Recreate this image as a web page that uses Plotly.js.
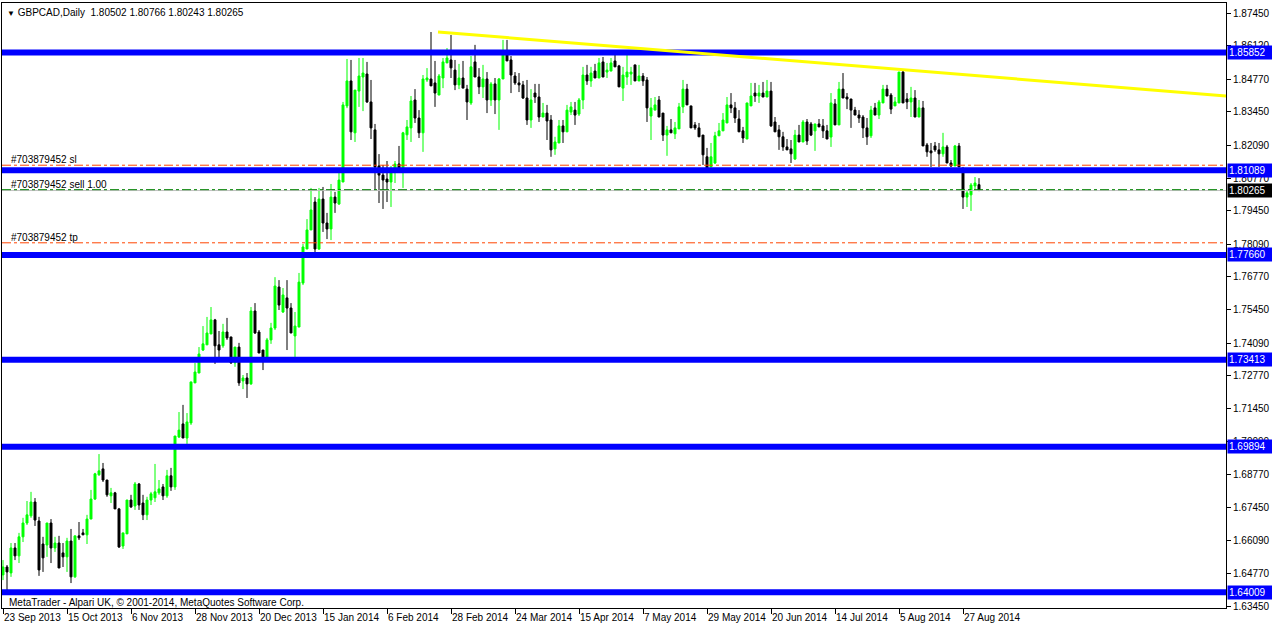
<!DOCTYPE html>
<html><head><meta charset="utf-8">
<script src="https://cdn.plot.ly/plotly-3.0.1.min.js"></script>
<style>html,body{margin:0;padding:0;background:#fff}#chart{width:1272px;height:628px}</style>
</head><body><div id="chart"></div>
<script>
// ---- data (GBPCAD daily, bar 0 = 23 Sep 2013) ----
const openP = [1.6471,1.6503,1.6479,1.6580,1.6548,1.6625,1.6681,1.6710,1.6766,1.6689,
1.6596,1.6592,1.6681,1.6580,1.6600,1.6560,1.6544,1.6608,1.6463,1.6629,
1.6641,1.6633,1.6697,1.6778,1.6876,1.6900,1.6855,1.6791,1.6803,1.6738,
1.6588,1.6637,1.6774,1.6750,1.6839,1.6762,1.6714,1.6774,1.6783,1.6803,
1.6827,1.6791,1.6872,1.6827,1.7029,1.7082,1.7025,1.7086,1.7248,1.7288,
1.7381,1.7402,1.7446,1.7503,1.7402,1.7398,1.7454,1.7434,1.7329,1.7393,
1.7256,1.7268,1.7244,1.7539,1.7454,1.7381,1.7353,1.7422,1.7470,1.7636,
1.7535,1.7592,1.7551,1.7438,1.7474,1.7652,1.7790,1.7867,1.7980,1.7790,
1.7992,1.7895,1.7871,1.8000,1.7972,1.8061,1.8369,1.8470,1.8260,1.8429,
1.8486,1.8498,1.8385,1.8272,1.8126,1.8089,1.8073,1.8061,1.8102,1.8134,
1.8118,1.8252,1.8280,1.8393,1.8320,1.8260,1.8474,1.8478,1.8462,1.8413,
1.8482,1.8543,1.8555,1.8514,1.8454,1.8482,1.8437,1.8381,1.8547,1.8486,
1.8446,1.8478,1.8393,1.8458,1.8393,1.8478,1.8579,1.8555,1.8490,1.8462,
1.8454,1.8401,1.8312,1.8421,1.8405,1.8324,1.8340,1.8312,1.8195,1.8219,
1.8288,1.8264,1.8344,1.8352,1.8336,1.8393,1.8494,1.8470,1.8510,1.8482,
1.8547,1.8506,1.8510,1.8551,1.8531,1.8441,1.8486,1.8498,1.8535,1.8470,
1.8490,1.8474,1.8328,1.8352,1.8393,1.8340,1.8251,1.8272,1.8256,1.8276,
1.8365,1.8437,1.8369,1.8292,1.8280,1.8251,1.8163,1.8122,1.8138,1.8248,
1.8268,1.8300,1.8373,1.8361,1.8316,1.8268,1.8235,1.8369,1.8421,1.8409,
1.8421,1.8405,1.8429,1.8304,1.8272,1.8244,1.8203,1.8195,1.8154,1.8251,
1.8223,1.8304,1.8296,1.8268,1.8296,1.8288,1.8268,1.8243,1.8377,1.8292,
1.8437,1.8405,1.8397,1.8352,1.8332,1.8324,1.8280,1.8248,1.8361,1.8332,
1.8381,1.8437,1.8413,1.8369,1.8381,1.8506,1.8397,1.8385,1.8401,1.8324,
1.8361,1.8211,1.8187,1.8207,1.8191,1.8175,1.8203,1.8138,1.8126,1.8207,
1.8110,1.8000,1.8009,1.8045,1.80502];
const highP = [1.6531,1.6511,1.6600,1.6600,1.6641,1.6702,1.6770,1.6807,1.6782,1.6706,
1.6625,1.6681,1.6697,1.6625,1.6629,1.6600,1.6621,1.6657,1.6629,1.6685,
1.6657,1.6714,1.6815,1.6884,1.6960,1.6924,1.6855,1.6823,1.6807,1.6742,
1.6641,1.6774,1.6795,1.6847,1.6843,1.6795,1.6787,1.6807,1.6920,1.6855,
1.6839,1.6896,1.6904,1.7033,1.7130,1.7159,1.7126,1.7252,1.7329,1.7393,
1.7478,1.7515,1.7555,1.7507,1.7458,1.7487,1.7511,1.7434,1.7393,1.7410,
1.7280,1.7288,1.7555,1.7571,1.7462,1.7381,1.7430,1.7491,1.7676,1.7664,
1.7632,1.7664,1.7571,1.7535,1.7693,1.7810,1.7911,1.8037,1.8000,1.8037,
1.8041,1.7936,1.8053,1.8021,1.8098,1.8385,1.8559,1.8555,1.8433,1.8563,
1.8563,1.8547,1.8474,1.8296,1.8174,1.8130,1.8146,1.8126,1.8146,1.8207,
1.8264,1.8312,1.8409,1.8437,1.8352,1.8494,1.8522,1.8668,1.8551,1.8498,
1.8563,1.8603,1.8656,1.8555,1.8539,1.8551,1.8454,1.8571,1.8616,1.8522,
1.8535,1.8506,1.8466,1.8482,1.8482,1.8636,1.8636,1.8571,1.8506,1.8502,
1.8470,1.8474,1.8437,1.8458,1.8458,1.8381,1.8373,1.8332,1.8244,1.8312,
1.8312,1.8373,1.8385,1.8385,1.8401,1.8527,1.8535,1.8527,1.8539,1.8563,
1.8567,1.8543,1.8563,1.8575,1.8535,1.8527,1.8575,1.8527,1.8535,1.8535,
1.8502,1.8486,1.8401,1.8405,1.8409,1.8340,1.8288,1.8316,1.8304,1.8381,
1.8474,1.8458,1.8369,1.8304,1.8300,1.8251,1.8199,1.8219,1.8264,1.8300,
1.8340,1.8405,1.8421,1.8385,1.8352,1.8284,1.8381,1.8462,1.8462,1.8454,
1.8466,1.8474,1.8466,1.8324,1.8292,1.8264,1.8235,1.8231,1.8272,1.8292,
1.8312,1.8316,1.8304,1.8296,1.8316,1.8316,1.8292,1.8421,1.8397,1.8466,
1.8502,1.8421,1.8397,1.8365,1.8352,1.8332,1.8320,1.8369,1.8381,1.8393,
1.8454,1.8454,1.8421,1.8405,1.8506,1.8514,1.8421,1.8446,1.8433,1.8393,
1.8389,1.8219,1.8219,1.8223,1.8219,1.8260,1.8211,1.8150,1.8211,1.8219,
1.8122,1.8029,1.8057,1.8081,1.80766];
const lowP = [1.6450,1.6410,1.6463,1.6531,1.6519,1.6604,1.6673,1.6702,1.6669,1.6467,
1.6483,1.6544,1.6519,1.6564,1.6499,1.6503,1.6483,1.6438,1.6459,1.6612,
1.6633,1.6596,1.6697,1.6774,1.6872,1.6847,1.6787,1.6762,1.6738,1.6580,
1.6576,1.6637,1.6742,1.6734,1.6734,1.6693,1.6693,1.6754,1.6766,1.6795,
1.6774,1.6783,1.6811,1.6815,1.7025,1.7025,1.7001,1.7078,1.7248,1.7288,
1.7377,1.7402,1.7446,1.7325,1.7349,1.7390,1.7422,1.7325,1.7313,1.7236,
1.7223,1.7187,1.7240,1.7446,1.7369,1.7300,1.7349,1.7406,1.7462,1.7543,
1.7531,1.7381,1.7450,1.7353,1.7474,1.7644,1.7790,1.7867,1.7774,1.7786,
1.7859,1.7830,1.7826,1.7936,1.7968,1.8061,1.8360,1.8231,1.8223,1.8365,
1.8348,1.8381,1.8235,1.8029,1.7976,1.7952,1.7980,1.7960,1.8057,1.8098,
1.8037,1.8231,1.8223,1.8300,1.8239,1.8183,1.8466,1.8450,1.8365,1.8413,
1.8441,1.8543,1.8482,1.8433,1.8437,1.8441,1.8312,1.8373,1.8486,1.8417,
1.8401,1.8340,1.8369,1.8336,1.8272,1.8478,1.8551,1.8421,1.8454,1.8425,
1.8397,1.8292,1.8280,1.8381,1.8304,1.8324,1.8231,1.8163,1.8171,1.8219,
1.8219,1.8264,1.8332,1.8292,1.8328,1.8356,1.8454,1.8446,1.8482,1.8482,
1.8486,1.8482,1.8510,1.8527,1.8446,1.8389,1.8454,1.8454,1.8470,1.8470,
1.8450,1.8304,1.8231,1.8352,1.8324,1.8227,1.8167,1.8260,1.8235,1.8276,
1.8340,1.8373,1.8280,1.8272,1.8244,1.8130,1.8098,1.8122,1.8134,1.8248,
1.8268,1.8300,1.8340,1.8300,1.8264,1.8219,1.8235,1.8369,1.8385,1.8381,
1.8405,1.8405,1.8284,1.8264,1.8191,1.8187,1.8191,1.8138,1.8150,1.8223,
1.8223,1.8211,1.8247,1.8187,1.8284,1.8239,1.8235,1.8203,1.8292,1.8292,
1.8401,1.8356,1.8280,1.8332,1.8300,1.8239,1.8211,1.8239,1.8332,1.8316,
1.8381,1.8409,1.8336,1.8369,1.8381,1.8381,1.8356,1.8324,1.8324,1.8324,
1.8207,1.8163,1.8122,1.8183,1.8122,1.8163,1.8138,1.8122,1.8126,1.8122,
1.7952,1.7960,1.7944,1.8025,1.80243];
const closeP = [1.6503,1.6483,1.6580,1.6548,1.6625,1.6681,1.6714,1.6766,1.6693,1.6491,
1.6540,1.6681,1.6580,1.6600,1.6499,1.6544,1.6608,1.6463,1.6629,1.6621,
1.6633,1.6697,1.6778,1.6880,1.6892,1.6855,1.6795,1.6803,1.6738,1.6584,
1.6641,1.6774,1.6746,1.6839,1.6754,1.6714,1.6774,1.6799,1.6807,1.6819,
1.6791,1.6872,1.6827,1.7033,1.7057,1.7025,1.7090,1.7252,1.7292,1.7365,
1.7406,1.7450,1.7503,1.7398,1.7381,1.7454,1.7430,1.7329,1.7393,1.7248,
1.7268,1.7244,1.7539,1.7450,1.7369,1.7353,1.7422,1.7470,1.7640,1.7563,
1.7604,1.7551,1.7450,1.7478,1.7656,1.7798,1.7867,1.7948,1.7790,1.7992,
1.7895,1.7871,1.8000,1.7976,1.8069,1.8373,1.8470,1.8264,1.8433,1.8490,
1.8502,1.8385,1.8280,1.8122,1.8089,1.8069,1.8061,1.8102,1.8134,1.8118,
1.8260,1.8284,1.8389,1.8320,1.8260,1.8478,1.8482,1.8450,1.8421,1.8490,
1.8547,1.8563,1.8523,1.8454,1.8482,1.8441,1.8385,1.8527,1.8486,1.8446,
1.8478,1.8393,1.8458,1.8393,1.8478,1.8579,1.8551,1.8494,1.8462,1.8454,
1.8401,1.8312,1.8393,1.8405,1.8324,1.8340,1.8308,1.8191,1.8223,1.8288,
1.8264,1.8352,1.8365,1.8332,1.8393,1.8494,1.8470,1.8502,1.8482,1.8543,
1.8486,1.8514,1.8543,1.8527,1.8446,1.8494,1.8506,1.8506,1.8470,1.8490,
1.8470,1.8361,1.8361,1.8373,1.8324,1.8251,1.8272,1.8260,1.8280,1.8365,
1.8437,1.8373,1.8280,1.8280,1.8244,1.8171,1.8118,1.8163,1.8248,1.8268,
1.8312,1.8373,1.8361,1.8320,1.8264,1.8239,1.8381,1.8409,1.8409,1.8421,
1.8405,1.8429,1.8288,1.8264,1.8244,1.8203,1.8191,1.8175,1.8251,1.8223,
1.8304,1.8227,1.8251,1.8296,1.8284,1.8268,1.8235,1.8381,1.8292,1.8437,
1.8401,1.8397,1.8352,1.8332,1.8320,1.8280,1.8244,1.8352,1.8332,1.8385,
1.8437,1.8409,1.8356,1.8385,1.8506,1.8381,1.8385,1.8401,1.8324,1.8361,
1.8207,1.8183,1.8179,1.8191,1.8175,1.8203,1.8138,1.8126,1.8207,1.8122,
1.8000,1.8017,1.8049,1.8057,1.80265];
const dateLabels = ['23 Sep 2013','15 Oct 2013','6 Nov 2013','28 Nov 2013','20 Dec 2013','15 Jan 2014',
  '6 Feb 2014','28 Feb 2014','24 Mar 2014','15 Apr 2014','7 May 2014','29 May 2014','20 Jun 2014',
  '14 Jul 2014','5 Aug 2014','27 Aug 2014'];
const labelEvery = 16;   // one date label every 16 daily bars
const priceTicks = [1.87450,1.86120,1.84770,1.83450,1.82090,1.80770,1.79450,1.78090,1.76770,1.75450,
  1.74090,1.72770,1.71450,1.70090,1.68770,1.67450,1.66090,1.64770,1.63450];
const levels = [1.85852,1.81089,1.77660,1.73413,1.69894,1.64009];
const bidPrice = 1.80265;
const orderTicket = '#703879452';
const orderSL = 1.81290, orderEntry = 1.80300, orderTP = 1.78150;
const trendBars = [108.75, 305.75];
const trendPrices = [1.86681, 1.84091];
const headerText = 'GBPCAD,Daily\u00a0\u00a01.80502 1.80766 1.80243 1.80265';

// ---- chart ----
const idx = openP.map((_, i) => i);
const FONT = 'Liberation Sans, Arial, sans-serif';

const trace = {
  type: 'candlestick', x: idx, open: openP, high: highP, low: lowP, close: closeP,
  increasing: {line: {color: '#00ff00', width: 1}, fillcolor: '#00ff00'},
  decreasing: {line: {color: '#000000', width: 1}, fillcolor: '#000000'},
  whiskerwidth: 0, hoverinfo: 'skip', showlegend: false
};

const shapes = [];
levels.forEach(v => shapes.push({type: 'line', xref: 'paper', x0: 0, x1: 1, yref: 'y', y0: v, y1: v,
  line: {color: '#0000ff', width: 6}}));
shapes.push({type: 'line', xref: 'paper', x0: 0, x1: 1, yref: 'y', y0: bidPrice, y1: bidPrice,
  line: {color: '#c0c0c0', width: 1}});
[orderSL, orderTP].forEach(v => shapes.push({type: 'line', xref: 'paper', x0: 0, x1: 1, yref: 'y', y0: v, y1: v,
  line: {color: '#ff4500', width: 1, dash: 'dashdot'}}));
shapes.push({type: 'line', xref: 'paper', x0: 0, x1: 1, yref: 'y', y0: orderEntry, y1: orderEntry,
  line: {color: '#008000', width: 1, dash: 'dashdot'}});
shapes.push({type: 'line', xref: 'x', yref: 'y', x0: trendBars[0], x1: trendBars[1], y0: trendPrices[0], y1: trendPrices[1],
  line: {color: '#ffff00', width: 3}});

const annotations = [];
levels.forEach(v => annotations.push({xref: 'paper', x: 1, xanchor: 'left', xshift: 1, yref: 'y', y: v,
  text: v.toFixed(5), showarrow: false, bgcolor: '#0000ff', font: {family: FONT, size: 10, color: '#ffffff'},
  width: 42, align: 'left', borderpad: 1}));
annotations.push({xref: 'paper', x: 1, xanchor: 'left', xshift: 1, yref: 'y', y: bidPrice,
  text: bidPrice.toFixed(5), showarrow: false, bgcolor: '#000000', font: {family: FONT, size: 10, color: '#ffffff'},
  width: 42, align: 'left', borderpad: 1});
[[orderSL, ' sl'], [orderEntry, ' sell 1.00'], [orderTP, ' tp']].forEach(([v, t]) => annotations.push({
  xref: 'paper', x: 0, xanchor: 'left', xshift: 7, yref: 'y', y: v, yanchor: 'bottom', yshift: -2,
  text: orderTicket + t, showarrow: false, font: {family: FONT, size: 10, color: '#000000'}}));
annotations.push({xref: 'paper', x: 0, xanchor: 'left', xshift: 3, yref: 'paper', y: 1, yanchor: 'top', yshift: -2,
  text: '<span style="font-size:8px">\u25bc</span> ' + headerText, showarrow: false,
  font: {family: FONT, size: 10, color: '#000000'}});
annotations.push({xref: 'paper', x: 0, xanchor: 'left', xshift: 5, yref: 'paper', y: 0, yanchor: 'bottom', yshift: -2,
  text: 'MetaTrader - Alpari UK, \u00a9 2001-2014, MetaQuotes Software Corp.', showarrow: false,
  font: {family: FONT, size: 10, color: '#000000'}});

const layout = {
  width: 1272, height: 628, margin: {l: 2, r: 46, t: 3, b: 20},
  paper_bgcolor: '#ffffff', plot_bgcolor: '#ffffff', showlegend: false, dragmode: false,
  xaxis: {type: 'linear', range: [-0.25, 305.75], tickvals: dateLabels.map((_, i) => i * labelEvery),
    ticktext: dateLabels, ticks: 'outside', ticklen: 5, tickcolor: '#000', ticklabelposition: 'outside right',
    tickangle: 0, automargin: false,
    tickfont: {family: FONT, size: 10, color: '#000'}, showline: true, linecolor: '#000', linewidth: 1,
    mirror: true, showgrid: false, zeroline: false, rangeslider: {visible: false}, fixedrange: true},
  yaxis: {side: 'right', range: [1.633703, 1.878547], tickvals: priceTicks,
    ticktext: priceTicks.map(v => v.toFixed(5)), ticks: 'outside', ticklen: 4, tickcolor: '#000',
    tickfont: {family: FONT, size: 10, color: '#000'}, showline: true, linecolor: '#000', linewidth: 1,
    mirror: true, showgrid: false, zeroline: false, fixedrange: true},
  shapes: shapes, annotations: annotations
};

Plotly.newPlot('chart', [trace], layout, {displayModeBar: false, staticPlot: true});
</script></body></html>
